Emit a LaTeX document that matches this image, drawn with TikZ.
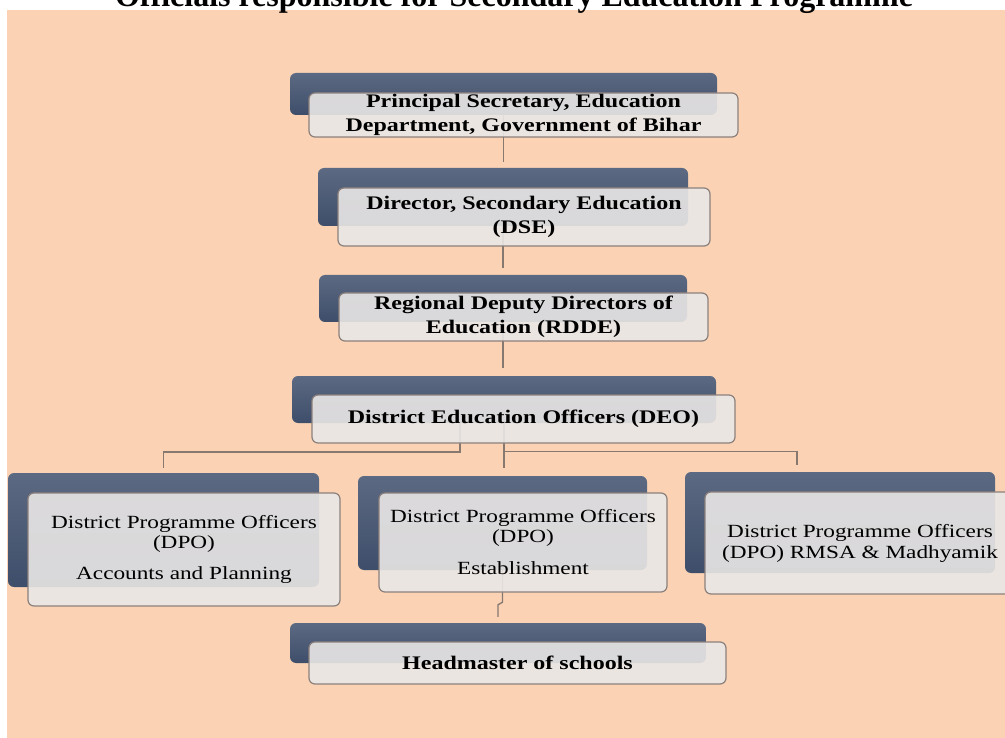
\documentclass[tikz,border=0pt]{standalone}
\usepackage{fontspec}
\setmainfont{Liberation Serif}
\newfontfamily\boxfont[FakeStretch=1.25]{Liberation Serif}
\usetikzlibrary{calc}
\pgfdeclarelayer{bglayer}
\pgfdeclarelayer{lines}
\pgfsetlayers{bglayer,lines,main}
\definecolor{peach}{RGB}{251,211,180}
\definecolor{darktop}{RGB}{92,105,130}
\definecolor{darkbot}{RGB}{62,78,106}
\definecolor{lightfill}{RGB}{234,231,230}
\definecolor{lightedge}{RGB}{140,128,124}
\definecolor{connc}{RGB}{135,120,112}
\begin{document}
\begin{tikzpicture}[x=1pt,y=-1pt,
  darkbox/.style={rounded corners=6pt, top color=darktop, bottom color=darkbot, draw=none, inner sep=0pt},
  lightbox/.style={rounded corners=6pt, fill=lightfill, fill opacity=0.9, text opacity=1, draw=lightedge, draw opacity=1, line width=1.2pt, inner sep=0pt, align=center, font=\boxfont\bfseries\fontsize{19.2}{24.5}\selectfont},
  dpobox/.style={lightbox, font=\boxfont\fontsize{18.6}{20}\selectfont},
  conn/.style={draw=connc, line width=1.4pt}
]
\useasboundingbox (0,0) rectangle (1005,738);
\begin{pgfonlayer}{bglayer}
\fill[peach] (7,10) rectangle (1012,745);
\end{pgfonlayer}
\node[anchor=base, font=\bfseries\fontsize{32}{36}\selectfont] (title) at (514,7) {Officials responsible for Secondary Education Programme};

% dark back boxes
\node[darkbox, minimum width=427pt, minimum height=42pt] (b1d) at (503.5,94) {};
\node[darkbox, minimum width=370pt, minimum height=58pt] (b2d) at (503,197) {};
\node[darkbox, minimum width=368pt, minimum height=47pt] (b3d) at (503,298.5) {};
\node[darkbox, minimum width=424pt, minimum height=47pt] (b4d) at (504,399.5) {};
\node[darkbox, minimum width=311pt, minimum height=114pt] (dld) at (163.5,530) {};
\node[darkbox, minimum width=289pt, minimum height=94pt] (dmd) at (502.5,523) {};
\node[darkbox, minimum width=310pt, minimum height=101pt] (drd) at (840,522.5) {};
\node[darkbox, minimum width=416pt, minimum height=40pt] (hmd) at (498,643) {};

% light front boxes
\node[lightbox, minimum width=429pt, minimum height=44pt] (b1) at (523.5,115) {Principal Secretary, Education\\Department, Government of Bihar};
\node[lightbox, minimum width=372pt, minimum height=58pt] (b2) at (524,217) {Director, Secondary Education\\(DSE)};
\node[lightbox, minimum width=369pt, minimum height=48pt] (b3) at (523.5,317) {Regional Deputy Directors of\\Education (RDDE)};
\node[lightbox, minimum width=423pt, minimum height=48pt] (b4) at (523.5,419) {District Education Officers (DEO)};
\node[dpobox, minimum width=312pt, minimum height=113pt] (dl) at (184,549.5) {District Programme Officers\\(DPO)\\[11pt]Accounts and Planning};
\node[dpobox, minimum width=288pt, minimum height=99pt] (dm) at (523,542.5) {District Programme Officers\\(DPO)\\[12pt]Establishment};
\node[dpobox, minimum width=310pt, minimum height=102pt, font=\boxfont\fontsize{18.6}{21}\selectfont] (dr) at (860,543) {District Programme Officers\\(DPO) RMSA \& Madhyamik};
\node[lightbox, minimum width=417pt, minimum height=42pt] (hm) at (517.5,663) {Headmaster of schools};

% connectors
\begin{pgfonlayer}{lines}
\draw[conn, shorten >=6pt] (b1d.center) -- (b1d.center |- b2d.north);
\draw[conn, shorten >=7pt] (b2d.center) -- (b2d.center |- b3d.north);
\draw[conn, shorten >=8pt] (b3d.center) -- (b3d.center |- b4d.north);
\draw[conn, shorten >=5pt] ([xshift=-44pt]b4d.south) |- ([yshift=21pt]dld.north) -- (dld.north);
\draw[conn, shorten >=8pt] (b4d.south) -- (b4d.south |- dmd.north);
\draw[conn, shorten >=7pt] ([yshift=-28pt]b4d.south) -| ([xshift=-43pt]drd.north);
\draw[conn, shorten >=6pt] (dmd.south) -- ([yshift=-32pt]dmd.south) -- ([yshift=18pt]hmd.north) -- (hmd.north);
\end{pgfonlayer}
\end{tikzpicture}
\end{document}
